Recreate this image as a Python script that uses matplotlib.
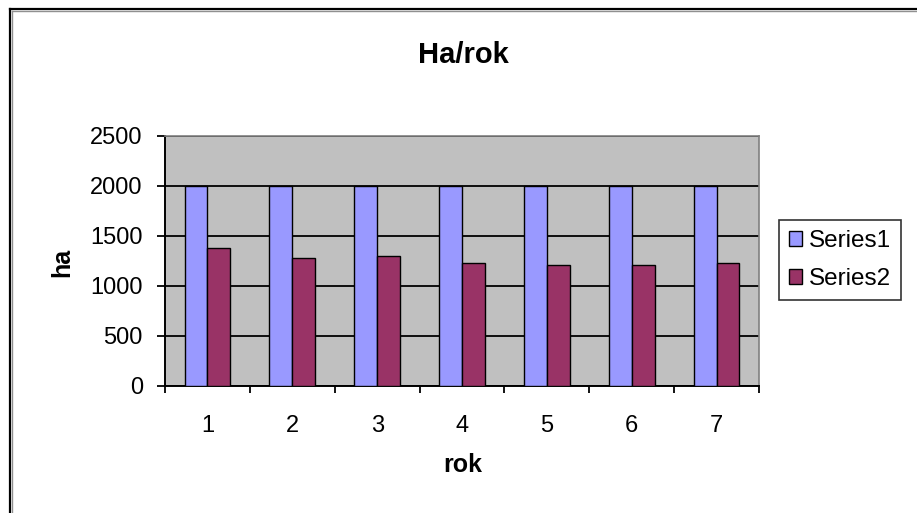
import matplotlib
matplotlib.use("Agg")
import matplotlib.pyplot as plt
from matplotlib.lines import Line2D
import numpy as np

plt.rcParams['font.family'] = ['Liberation Sans', 'DejaVu Sans']

# data
years = [1, 2, 3, 4, 5, 6, 7]
series1 = [2000, 2000, 2000, 2000, 2000, 2000, 2000]
series2 = [1380, 1280, 1300, 1230, 1215, 1215, 1235]
series_names = ["Series1", "Series2"]
title = "Ha/rok"
xlabel = "rok"
ylabel = "ha"
yticks = [0, 500, 1000, 1500, 2000, 2500]

W, H = 917, 513
fig = plt.figure(figsize=(W / 100, H / 100), dpi=100)
fig.patch.set_facecolor("white")


def px(x, y):
    return x / W, 1 - y / H


# chart frame (left and top edges, with a grey inner shade)
fig.add_artist(Line2D([10 / W, 10 / W], [0, 1 - 9 / H], color="black", lw=1.6,
                      transform=fig.transFigure))
fig.add_artist(Line2D([11.8 / W, 11.8 / W], [0, 1 - 10.8 / H], color="#909090", lw=1.0,
                      transform=fig.transFigure))
fig.add_artist(Line2D([10 / W, 1], [1 - 9 / H, 1 - 9 / H], color="black", lw=1.6,
                      transform=fig.transFigure))
fig.add_artist(Line2D([11.8 / W, 1], [1 - 10.8 / H, 1 - 10.8 / H], color="#909090", lw=1.0,
                      transform=fig.transFigure))

left, top, right, bottom = 165, 136, 759, 386
ax = fig.add_axes([left / W, 1 - bottom / H, (right - left) / W, (bottom - top) / H])
ax.set_facecolor("#C0C0C0")

x = np.array(years, dtype=float)
bw = 0.27
ax.bar(x - bw / 2, series1, width=bw, color="#9999FF", edgecolor="black", linewidth=1.0,
       label=series_names[0], zorder=3)
ax.bar(x + bw / 2, series2, width=bw, color="#993366", edgecolor="black", linewidth=1.0,
       label=series_names[1], zorder=3)

ax.set_xlim(0.5, 7.5)
ax.set_ylim(0, 2500)

ax.yaxis.grid(True, color="black", linewidth=1.3, zorder=1)
ax.set_axisbelow(True)

for s in ["top", "right"]:
    ax.spines[s].set_color("#808080")
    ax.spines[s].set_linewidth(1.2)
for s in ["left", "bottom"]:
    ax.spines[s].set_color("black")
    ax.spines[s].set_linewidth(1.4)

ax.set_yticks(yticks)
ax.set_yticklabels([str(v) for v in yticks])
ax.tick_params(axis="y", direction="out", length=6, width=1.3, pad=10,
               labelsize=17, colors="black")

ax.set_xticks(years)
ax.set_xticklabels([str(v) for v in years])
ax.set_xticks(np.arange(0.5, 8.0, 1.0), minor=True)
ax.tick_params(axis="x", which="major", length=0, pad=21, labelsize=17)
ax.tick_params(axis="x", which="minor", direction="out", length=5, width=1.3)

fig.text(*px(463, 55), title, ha="center", va="center", fontsize=21, fontweight="bold")
fig.text(*px(62, 262), ylabel, ha="center", va="center", rotation=90, fontsize=18,
         fontweight="bold")
fig.text(*px(463, 465), xlabel, ha="center", va="center", fontsize=18, fontweight="bold")

leg = fig.legend(loc="center left", bbox_to_anchor=px(779, 260), fontsize=17.5,
                 frameon=True, fancybox=False, edgecolor="black",
                 handlelength=0.55, handleheight=0.55, handletextpad=0.3,
                 borderpad=0.4, labelspacing=0.65, borderaxespad=0)
leg.get_frame().set_linewidth(1.2)

fig.savefig("out.png", dpi=100)
